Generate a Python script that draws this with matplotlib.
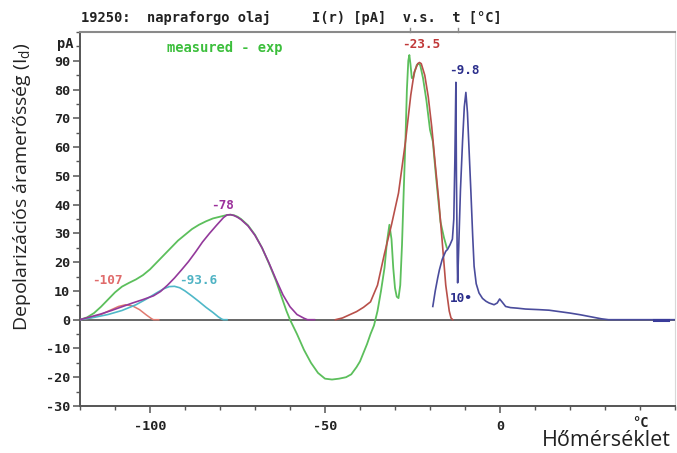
import matplotlib
matplotlib.use("Agg")
import matplotlib.pyplot as plt
from matplotlib.ticker import MultipleLocator, FixedLocator

# ---- data ----
t_measured = [-120, -118, -116, -114, -112, -110, -108, -106, -104, -102, -100, -98, -96, -94, -92,
              -90, -88, -86, -84, -82, -80, -78, -77, -76, -75, -74, -72, -70, -68, -66, -64,
              -62, -61, -60, -58, -56, -54, -52, -50, -48, -46, -44, -42.5, -41, -40, -39, -38,
              -37, -36, -35, -34, -33, -32.3, -31.6, -31, -30.5, -30, -29.5, -29, -28.5, -28,
              -27.5, -27, -26.6, -26.2, -25.9, -25.6, -25.2, -24.8, -24.3, -23.8, -23.3, -22.8,
              -22, -21, -20, -19.2, -18.3, -17.5, -17, -16, -15.2]
i_measured = [0, 0.8, 2.3, 4.5, 7, 9.5, 11.5, 12.8, 14, 15.5, 17.5, 20, 22.5, 25, 27.5,
              29.5, 31.5, 33, 34.2, 35.2, 35.8, 36.4, 36.5, 36.3, 35.8, 35, 32.8, 29.5, 25, 19.5, 13.5,
              6.5, 3, 0, -5, -10.5, -15, -18.5, -20.5, -20.8, -20.5, -20, -19, -16.5, -14.5, -11.5, -8.5,
              -5, -2, 3, 10, 18, 27, 33, 28, 18, 11, 8, 7.5, 12, 26,
              45, 63, 80, 90, 92, 89, 84, 84, 86.5, 88.5, 89, 88.5,
              84, 76, 66, 62, 50, 40, 34, 28.5, 25]

t_p235 = [-47, -45, -43, -41, -39, -37, -35, -33, -31, -29, -27, -25.5, -24.5, -23.5, -23, -22.5,
          -21.5, -20.5, -19.5, -18.5, -17.5, -16.5, -15.5, -14.5, -14, -13.5]
i_p235 = [0, 0.6, 1.7, 2.8, 4.3, 6.2, 12, 23, 33, 44, 62, 78, 86, 89, 89.4, 89,
          85, 77.5, 67, 54, 41.5, 27, 12, 3, 0.6, 0]

t_p78 = [-120, -117, -114, -111, -108, -105, -102, -99, -97, -95, -93, -91, -89, -87, -85, -83,
         -81, -79, -78, -77, -76, -75, -74, -72, -70, -68, -66, -64, -62, -60, -58, -56, -55, -53]
i_p78 = [0, 1, 2, 3.2, 4.5, 5.8, 7, 8.3, 9.8, 12, 14.5, 17.3, 20.2, 23.5, 27, 30,
         32.8, 35.5, 36.4, 36.5, 36.2, 35.6, 34.8, 32.6, 29.3, 25, 19.7, 14, 8.6, 4.5, 1.8, 0.5, 0, 0]

t_p107 = [-120, -117, -114, -111, -109, -107, -105, -103, -101, -99.5, -99, -97.5]
i_p107 = [0, 0.6, 1.8, 3.5, 4.6, 5.2, 4.8, 3.5, 1.6, 0.3, 0, 0]

t_p936 = [-120, -116, -112, -108, -104, -101, -98, -96, -94.5, -93, -91.5, -90, -88, -86, -84,
          -82, -80.5, -79.5, -79, -78]
i_p936 = [0, 0.8, 1.8, 3.2, 5.2, 7.2, 9.4, 10.8, 11.5, 11.6, 11.1, 10, 8.2, 6.3, 4.3,
          2.5, 1, 0.2, 0, 0]

t_p98 = [-19.2, -18.5, -17.8, -17.3, -16.5, -15.5, -15, -14.3, -13.6, -13.2, -12.9, -12.6, -12.45,
         -12.2, -12.1, -11.8, -11.3, -10.7, -10.2, -9.75, -9.3, -8.8, -8.3, -7.8, -7.4, -6.8, -6,
         -5, -4, -3.1, -1.7, -0.8, -0.1, 0.7, 1.6, 3, 5, 7.3, 11, 14, 17, 20, 23, 26, 29, 31, 40, 44, 48, 50]
i_p98 = [4.6, 10, 14.5, 17.4, 21, 23.8, 24.4, 26, 28, 35, 55, 82.5, 50,
         20, 12.8, 25, 45, 62, 74, 79, 72, 58, 44, 29, 18.6, 12.5, 9.3,
         7.4, 6.4, 5.8, 5.2, 5.8, 7.2, 6, 4.6, 4.2, 4.0, 3.7, 3.5, 3.3, 2.8, 2.3, 1.7, 1.0, 0.3, 0, 0, 0, 0, 0]

peak_labels = ["-107", "-93.6", "-78", "-23.5", "-9.8", "10\u2022"]
label_t = [-112.2, -86.1, -79.2, -22.4, -10.3, -11.0]
label_i = [13.7, 13.7, 39.7, 95.5, 86.5, 7.5]
label_colors = ["#e06b6b", "#4fb3c4", "#9b2f9b", "#c03838", "#2c2f8c", "#2c2f8c"]

y_ticks = [-30, -20, -10, 0, 10, 20, 30, 40, 50, 60, 70, 80, 90]
x_ticks = [-100, -50, 0]

mono = {"family": "DejaVu Sans Mono", "weight": "bold", "size": 9.2}
mono_big = {"family": "DejaVu Sans Mono", "weight": "bold", "size": 9.9}

fig = plt.figure(figsize=(6.77, 4.53), dpi=100)
ax = fig.add_axes([80 / 677, 47 / 453, 595 / 677, 374 / 453])
ax.set_xlim(-120, 50)
ax.set_ylim(-30, 100)

ax.axhline(0, color="#5a5a5a", lw=1.3, zorder=1)

ax.plot(t_p107, i_p107, color="#e07a70", lw=1.1, zorder=3)
ax.plot(t_p936, i_p936, color="#4fb8c8", lw=1.2, zorder=3)
ax.plot(t_p78, i_p78, color="#93399b", lw=1.2, zorder=3)
ax.plot(t_measured, i_measured, color="#5cbf5c", lw=1.3, zorder=2)
ax.plot(t_p235, i_p235, color="#b8504a", lw=1.2, zorder=4)
ax.plot(t_p98, i_p98, color="#4a4c9c", lw=1.2, zorder=4)
ax.plot([44, 48], [0, 0], color="#3a3c9a", lw=2.2, zorder=4)

for txt, tx, ty, c in zip(peak_labels, label_t, label_i, label_colors):
    ax.text(tx, ty, txt, color=c, ha="center", va="center", fontdict=mono)

ax.text(-78.7, 94.5, "measured - exp", color="#3cbf3c", ha="center", va="center", fontdict=mono_big)
fig.text(73 / 677, 1 - 44 / 453, "pA", color="#222222", ha="right", va="center", fontdict=mono_big)

# spines
for s in ["left", "bottom"]:
    ax.spines[s].set_color("#555555")
    ax.spines[s].set_linewidth(1.4)
ax.spines["top"].set_color("#8a8a8a")
ax.spines["top"].set_linewidth(1.5)
ax.spines["right"].set_color("#d8d8d8")
ax.spines["right"].set_linewidth(0.8)

ax.yaxis.set_major_locator(FixedLocator(y_ticks))
ax.yaxis.set_minor_locator(MultipleLocator(5))
ax.set_yticklabels([str(v) for v in y_ticks])
ax.xaxis.set_major_locator(FixedLocator(x_ticks))
ax.xaxis.set_minor_locator(MultipleLocator(10))
ax.set_xticklabels([str(v) for v in x_ticks])
ax.tick_params(which="major", direction="out", length=5, width=1.1, color="#555555",
               labelcolor="#222222", pad=2)
ax.tick_params(which="minor", direction="out", length=3, width=1.0, color="#555555")
for lab in ax.get_xticklabels() + ax.get_yticklabels():
    lab.set_fontfamily("DejaVu Sans Mono")
    lab.set_fontweight("bold")
    lab.set_fontsize(9.7)
ax.tick_params(axis="x", pad=5)

ax.text(40, -36, "\u00b0C", ha="center", va="center", fontdict=mono_big, color="#222222", clip_on=False)

# small marks on the top border
for tx in [-25.6, -12.0]:
    ax.plot([tx, tx], [100, 101.5], color="#8a8a8a", lw=1.0, clip_on=False)

fig.text(81 / 677, 1 - 18 / 453, "19250:  napraforgo olaj     I(r) [pA]  v.s.  t [\u00b0C]",
         ha="left", va="center", color="#222222", fontdict=mono_big)

fig.text(22 / 677, 1 - 187 / 453, "Depolarizációs áramerősség (I$_\\mathregular{d}$)",
         rotation=90, ha="center", va="center", family="Open Sans", fontsize=14, color="#222222")
fig.text(606 / 677, 1 - 441 / 453, "Hőmérséklet", ha="center", va="center",
         family="Open Sans", fontsize=15.5, color="#222222")

fig.savefig("out.png", dpi=100, facecolor="white")
